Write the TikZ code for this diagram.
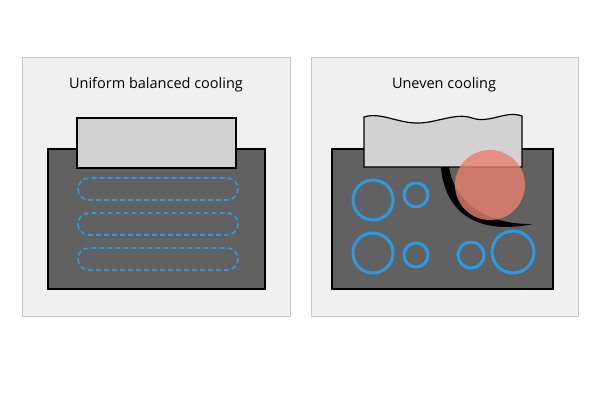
\documentclass[tikz,border=0pt]{standalone}
\usepackage{fontspec}
\setmainfont{Open Sans}
\definecolor{bl}{HTML}{2A9BE0}
\definecolor{rd}{HTML}{E8806E}
\begin{document}
\begin{tikzpicture}[x=1pt,y=-1pt,
 panel/.style={fill=gray!12,draw=gray!45,line width=0.8},
 dark/.style={fill=black!62,draw=black,line width=1.2},
 light/.style={fill=gray!35,draw=black,line width=1.2},
 pipe/.style={draw=bl,line width=1.6,dash pattern=on 5pt off 3pt,rounded corners=11},
 ring/.style={draw=bl,line width=3},
 title/.style={font=\fontsize{14.5}{16}\selectfont}]
\useasboundingbox (0,0) rectangle (600,408);
\fill[white] (0,0) rectangle (600,408);
\draw[panel] (22,57) rectangle (290,316);
\draw[panel] (311,57) rectangle (578,316);
\node[title] (t1) at (156,85) {Uniform balanced cooling};
\node[title] (t2) at (444,85) {Uneven cooling};
% left
\draw[dark] (48,149) rectangle (265,289);
\draw[light] (77,118) rectangle (236,168);
\foreach \y in {178,213,248} \draw[pipe] (78,\y) rectangle (238,\y+22);
% right
\draw[dark] (332,149) rectangle (553,289);
\draw[light] (364,167) -- (364,117) .. controls (380,112) and (395,122) .. (415,123)
 .. controls (435,124) and (455,112) .. (472,118) .. controls (490,124) and (505,110) .. (522,116) -- (522,167) -- cycle;
\fill[black] (449,167) .. controls (455,205) and (490,225) .. (533,224)
 .. controls (480,235) and (445,215) .. (441,167) -- cycle;
\fill[rd,opacity=0.8] (490,185) circle (35);
\draw[ring] (373,200) circle (20);
\draw[ring] (416,195) circle (12);
\draw[ring] (373,253) circle (20);
\draw[ring] (416,255) circle (12);
\draw[ring] (471,255) circle (13);
\draw[ring] (513,252) circle (21);
\end{tikzpicture}
\end{document}
